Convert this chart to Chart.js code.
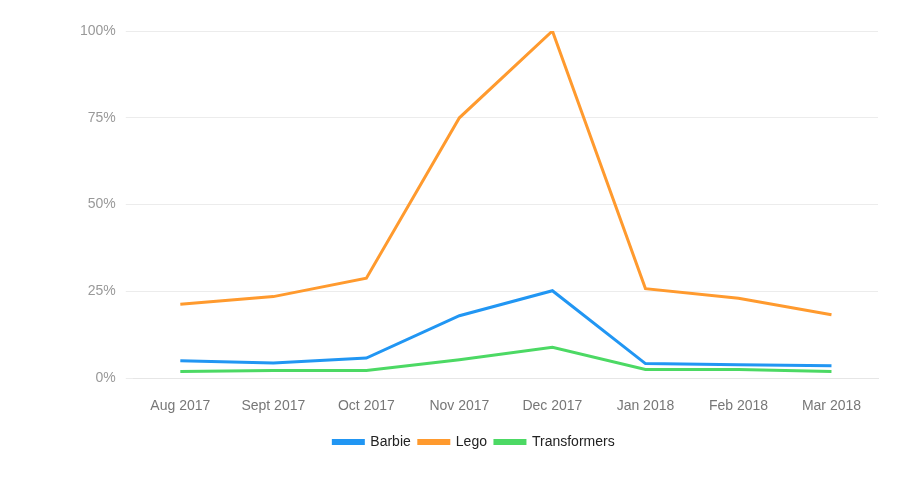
<!DOCTYPE html>
<html><head><script src="https://cdn.jsdelivr.net/npm/chart.js@4"></script>
<style>body{margin:0;background:#fff}#w{width:924px;height:477px}</style></head>
<body><div id="w"><canvas id="c"></canvas></div>
<script>
const categories=["Aug 2017","Sept 2017","Oct 2017","Nov 2017","Dec 2017","Jan 2018","Feb 2018","Mar 2018"];
const barbie=[5,4.4,5.8,18,25.2,4.2,3.9,3.6];
const lego=[21.3,23.5,28.8,75,100,25.8,23,18.3];
const transformers=[1.9,2.2,2.2,5.3,8.9,2.5,2.5,1.9];
const yTicks=[0,25,50,75,100];
const ds=(l,d,c)=>({label:l,data:d,borderColor:c,backgroundColor:c,borderWidth:3,pointRadius:0,tension:0,fill:false});
new Chart(document.getElementById('c'),{type:'line',
data:{labels:categories,datasets:[ds('Barbie',barbie,'#2196f3'),ds('Lego',lego,'#ff9a2e'),ds('Transformers',transformers,'#4cd964')]},
options:{responsive:true,maintainAspectRatio:false,animation:false,
layout:{padding:{top:31,right:46,left:70,bottom:18}},
plugins:{legend:{position:'bottom',labels:{boxWidth:30,boxHeight:3,color:'#222',font:{family:'Liberation Sans, Arial',size:14},padding:8}},tooltip:{enabled:false}},
scales:{x:{offset:true,grid:{display:false},border:{color:'#e6e6e6'},ticks:{color:'#777',font:{family:'Liberation Sans, Arial',size:14},padding:12,maxRotation:0}},
y:{min:0,max:100,afterBuildTicks:a=>{a.ticks=yTicks.map(v=>({value:v}))},grid:{color:'#ececec'},border:{display:false},ticks:{color:'#999',font:{family:'Liberation Sans, Arial',size:14},padding:10,callback:v=>v+'%'}}}}});
</script></body></html>
